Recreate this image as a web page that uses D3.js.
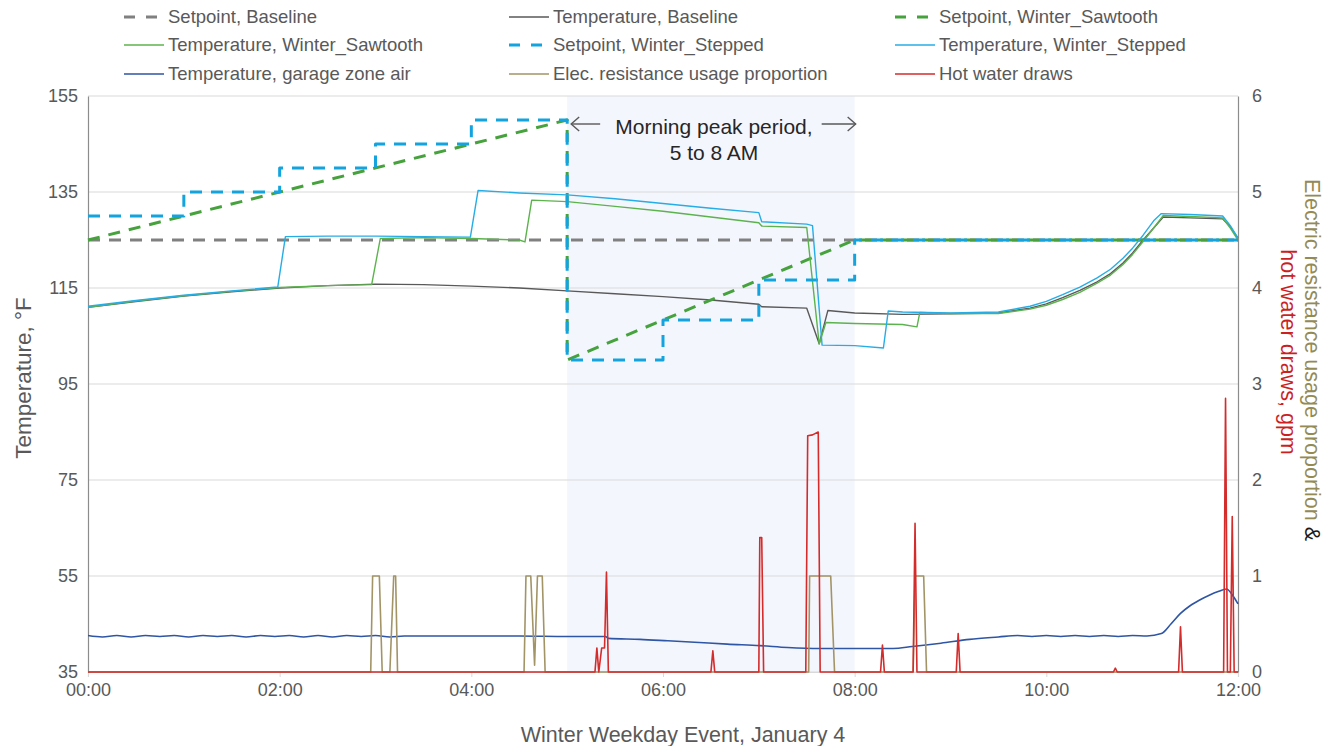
<!DOCTYPE html>
<html>
<head>
<meta charset="utf-8">
<script src="https://cdn.jsdelivr.net/npm/d3@7/dist/d3.min.js"></script>
<style>
  html, body { margin: 0; padding: 0; background: #ffffff; }
  svg { display: block; font-family: "Liberation Sans", Arial, sans-serif; }
</style>
</head>
<body>
<svg id="chart" width="1335" height="746"></svg>
<script>
// ---- Data (hours after midnight, °F / gpm / proportion) ----
const xTickHours = [0, 2, 4, 6, 8, 10, 12];
const xTickLabels = ["00:00", "02:00", "04:00", "06:00", "08:00", "10:00", "12:00"];
const leftTicks = [35, 55, 75, 95, 115, 135, 155];
const rightTicks = [0, 1, 2, 3, 4, 5, 6];
const peakStart = 5, peakEnd = 8;

const setpointBaselineHours = [0, 12];
const setpointBaselineTemp = [125, 125];

const tempBaselineHours = [0, 0.5, 1.0, 1.5, 2.0, 2.5, 3.0, 3.5, 4.0, 4.5, 5.0, 5.5, 6.0, 6.5, 7.0, 7.03, 7.5, 7.63, 7.72, 8.0, 8.5, 9.0, 9.5, 9.83, 10.0, 10.17, 10.35, 10.53, 10.67, 10.8, 10.9, 11.01, 11.12, 11.22, 11.5, 11.84, 11.92, 12.0];
const tempBaselineTemp = [111.0, 112.2, 113.3, 114.2, 115.0, 115.5, 115.8, 115.7, 115.4, 115.0, 114.4, 113.8, 113.2, 112.5, 111.6, 111.1, 110.8, 103.4, 110.3, 109.8, 109.5, 109.6, 109.8, 110.8, 111.7, 113.0, 114.5, 116.3, 118.0, 120.2, 122.3, 125.0, 127.5, 129.8, 129.6, 129.4, 127.7, 125.4];

const setpointSawtoothHours = [0, 5, 5, 8, 12];
const setpointSawtoothTemp = [125, 150, 100, 125, 125];

const tempSawtoothHours = [0, 0.5, 1.0, 1.5, 2.0, 2.5, 2.96, 3.05, 3.5, 4.0, 4.5, 4.56, 4.63, 5.0, 5.5, 6.0, 6.5, 7.0, 7.03, 7.5, 7.63, 7.7, 8.0, 8.5, 8.65, 8.68, 9.0, 9.5, 9.83, 10.0, 10.17, 10.35, 10.53, 10.67, 10.8, 10.9, 11.01, 11.12, 11.22, 11.5, 11.84, 11.92, 12.0];
const tempSawtoothTemp = [111.0, 112.3, 113.4, 114.3, 115.1, 115.5, 115.7, 125.3, 125.5, 125.3, 125.0, 124.6, 133.3, 133.0, 132.0, 131.0, 129.8, 128.6, 127.9, 127.6, 103.3, 107.8, 107.6, 107.4, 106.9, 109.9, 109.7, 109.7, 110.6, 111.4, 112.6, 114.1, 116.0, 117.7, 119.9, 122.0, 124.7, 127.5, 130.1, 129.9, 129.6, 127.5, 125.0];

const setpointSteppedHours = [0, 1, 2, 3, 4, 5, 6, 7, 8, 12];
const setpointSteppedTemp = [130, 135, 140, 145, 150, 100, 108.33, 116.67, 125, 125];

const tempSteppedHours = [0, 0.5, 1.0, 1.5, 1.98, 2.06, 2.5, 3.0, 3.5, 3.99, 4.07, 4.5, 5.0, 5.5, 6.0, 6.5, 7.0, 7.03, 7.5, 7.56, 7.66, 8.0, 8.3, 8.35, 8.5, 9.0, 9.5, 9.83, 10.0, 10.17, 10.35, 10.53, 10.67, 10.8, 10.9, 11.01, 11.12, 11.2, 11.5, 11.84, 11.92, 12.0];
const tempSteppedTemp = [111.2, 112.4, 113.5, 114.4, 115.2, 125.7, 125.8, 125.8, 125.7, 125.6, 135.3, 134.8, 134.4, 133.6, 132.6, 131.6, 130.7, 128.8, 128.3, 128.0, 103.1, 103.0, 102.5, 110.2, 110.0, 109.8, 110.0, 111.2, 112.2, 113.6, 115.2, 117.1, 118.9, 121.2, 123.3, 126.0, 129.0, 130.5, 130.3, 130.0, 128.0, 125.4];

const garageHours = [0, 0.15, 0.3, 0.45, 0.6, 0.75, 0.9, 1.05, 1.2, 1.35, 1.5, 1.65, 1.8, 1.95, 2.1, 2.25, 2.4, 2.55, 2.7, 2.85, 3.0, 3.15, 3.3, 3.5, 4.0, 4.5, 5.0, 5.4, 5.43, 5.76, 6.05, 6.33, 6.67, 7.01, 7.3, 7.64, 8.0, 8.4, 8.6, 8.9, 9.2, 9.5, 9.7, 9.85, 10.0, 10.15, 10.3, 10.45, 10.6, 10.75, 10.9, 11.05, 11.2, 11.3, 11.4, 11.5, 11.6, 11.7, 11.8, 11.88, 11.95, 12.0];
const garageTemp = [42.6, 42.3, 42.6, 42.3, 42.6, 42.4, 42.6, 42.3, 42.6, 42.4, 42.6, 42.3, 42.6, 42.4, 42.6, 42.3, 42.6, 42.3, 42.6, 42.4, 42.6, 42.3, 42.5, 42.5, 42.5, 42.5, 42.4, 42.4, 42.0, 41.8, 41.5, 41.2, 40.8, 40.5, 40.1, 39.9, 39.9, 39.9, 40.3, 41.0, 41.8, 42.3, 42.6, 42.4, 42.6, 42.4, 42.6, 42.4, 42.6, 42.4, 42.6, 42.5, 43.0, 45.0, 47.2, 48.8, 50.0, 51.0, 51.8, 52.3, 50.8, 49.2];

const elecHours = [0, 2.95, 2.97, 3.04, 3.07, 3.15, 3.19, 3.21, 3.23, 4.55, 4.57, 4.62, 4.66, 4.69, 4.74, 4.77, 7.52, 7.53, 7.75, 7.79, 8.61, 8.63, 8.72, 8.75, 12];
const elecProportion = [0, 0, 1, 1, 0, 0, 1, 1, 0, 0, 1, 1, 0.07, 1, 1, 0, 0, 1, 1, 0, 0, 1, 1, 0, 0];

const drawHours = [0, 5.29, 5.31, 5.33, 5.36, 5.39, 5.41, 5.43, 6.5, 6.52, 6.54, 7.0, 7.01, 7.03, 7.05, 7.49, 7.51, 7.56, 7.62, 7.64, 8.27, 8.29, 8.31, 8.61, 8.63, 8.65, 9.06, 9.08, 9.1, 10.7, 10.72, 10.74, 11.38, 11.4, 11.42, 11.85, 11.87, 11.89, 11.92, 11.94, 11.96, 12];
const drawGpm = [0, 0, 0.25, 0, 0.25, 0.25, 1.04, 0, 0, 0.22, 0, 0, 1.4, 1.4, 0, 0, 2.46, 2.47, 2.5, 0, 0, 0.28, 0, 0, 1.55, 0, 0, 0.4, 0, 0, 0.04, 0, 0, 0.47, 0, 0, 2.85, 0, 0, 1.62, 0, 0];

// ---- Series styling ----
const C = {
  grey: "#808080", dark: "#595959",
  greenDash: "#46a23c", green: "#5cb34d",
  blueDash: "#13a3de", blue: "#26ade6",
  garage: "#2f55a5", elec: "#a39467", draws: "#d42b2b",
  text: "#595959"
};

const series = [
  { name: "Setpoint, Baseline", h: setpointBaselineHours, v: setpointBaselineTemp, axis: "L", color: C.grey, width: 3, dash: "12,9", curve: d3.curveLinear },
  { name: "Temperature, Baseline", h: tempBaselineHours, v: tempBaselineTemp, axis: "L", color: C.dark, width: 1.4, curve: d3.curveLinear },
  { name: "Setpoint, Winter_Sawtooth", h: setpointSawtoothHours, v: setpointSawtoothTemp, axis: "L", color: C.greenDash, width: 3, dash: "12,9", curve: d3.curveLinear },
  { name: "Temperature, Winter_Sawtooth", h: tempSawtoothHours, v: tempSawtoothTemp, axis: "L", color: C.green, width: 1.4, curve: d3.curveLinear },
  { name: "Setpoint, Winter_Stepped", h: setpointSteppedHours, v: setpointSteppedTemp, axis: "L", color: C.blueDash, width: 3, dash: "12,9", curve: d3.curveStepAfter },
  { name: "Temperature, Winter_Stepped", h: tempSteppedHours, v: tempSteppedTemp, axis: "L", color: C.blue, width: 1.4, curve: d3.curveLinear },
  { name: "Temperature, garage zone air", h: garageHours, v: garageTemp, axis: "L", color: C.garage, width: 1.6, curve: d3.curveMonotoneX },
  { name: "Elec. resistance usage proportion", h: elecHours, v: elecProportion, axis: "R", color: C.elec, width: 1.6, curve: d3.curveLinear },
  { name: "Hot water draws", h: drawHours, v: drawGpm, axis: "R", color: C.draws, width: 1.6, curve: d3.curveLinear }
];

// ---- Layout ----
const plot = { left: 88, right: 1238, top: 96, bottom: 672 };
const x = d3.scaleLinear().domain([0, 12]).range([plot.left, plot.right]);
const yL = d3.scaleLinear().domain([35, 155]).range([plot.bottom, plot.top]);
const yR = d3.scaleLinear().domain([0, 6]).range([plot.bottom, plot.top]);

const svg = d3.select("#chart");

// Morning peak shading
svg.append("rect")
  .attr("x", x(peakStart)).attr("y", plot.top)
  .attr("width", x(peakEnd) - x(peakStart)).attr("height", plot.bottom - plot.top)
  .attr("fill", "#f4f6fd");

// Horizontal gridlines
svg.append("g").selectAll("line").data(leftTicks).join("line")
  .attr("x1", plot.left).attr("x2", plot.right)
  .attr("y1", d => yL(d)).attr("y2", d => yL(d))
  .attr("stroke", "#d9d9d9").attr("stroke-width", 1.2);

// Axes
const fontTick = 18;
const tickFont = '"Liberation Sans", Arial, sans-serif';
const xAxis = d3.axisBottom(x).tickValues(xTickHours)
  .tickFormat((d, i) => xTickLabels[i]).tickSize(5).tickPadding(6);
const gx = svg.append("g").attr("transform", `translate(0,${plot.bottom})`).call(xAxis);
gx.select(".domain").attr("stroke", "#d9d9d9").attr("stroke-width", 1.2);
gx.selectAll(".tick line").attr("stroke", "#d9d9d9");
gx.selectAll("text").attr("fill", C.text).style("font-size", fontTick + "px").style("font-family", tickFont);

const yAxisL = d3.axisLeft(yL).tickValues(leftTicks).tickSize(0).tickPadding(10);
const gyl = svg.append("g").attr("transform", `translate(${plot.left},0)`).call(yAxisL);
gyl.select(".domain").attr("stroke", "#8c8c8c").attr("stroke-width", 1.2);
gyl.selectAll("text").attr("fill", C.text).style("font-size", fontTick + "px").style("font-family", tickFont);

const yAxisR = d3.axisRight(yR).tickValues(rightTicks).tickFormat(d3.format("d")).tickSize(0).tickPadding(14);
const gyr = svg.append("g").attr("transform", `translate(${plot.right},0)`).call(yAxisR);
gyr.select(".domain").attr("stroke", "#8c8c8c").attr("stroke-width", 1.2);
gyr.selectAll("text").attr("fill", C.text).style("font-size", fontTick + "px").style("font-family", tickFont);

// Series lines
const gLines = svg.append("g");
series.forEach(s => {
  const yS = s.axis === "L" ? yL : yR;
  const pts = s.h.map((h, i) => [h, s.v[i]]);
  const line = d3.line().x(d => x(d[0])).y(d => yS(d[1])).curve(s.curve);
  gLines.append("path")
    .attr("d", line(pts))
    .attr("fill", "none")
    .attr("stroke", s.color)
    .attr("stroke-width", s.width)
    .attr("stroke-dasharray", s.dash || null)
    .attr("stroke-linejoin", "round");
});

// Peak-period annotation
const ann = svg.append("g").attr("fill", "#262626").style("font-size", "21px");
ann.append("text").attr("x", 714).attr("y", 134).attr("text-anchor", "middle").text("Morning peak period,");
ann.append("text").attr("x", 714).attr("y", 160).attr("text-anchor", "middle").text("5 to 8 AM");
const arrowY = 124;
const arrows = svg.append("g").attr("stroke", "#595959").attr("stroke-width", 1.4).attr("fill", "none");
arrows.append("line").attr("x1", x(peakStart) + 33).attr("x2", x(peakStart) + 4).attr("y1", arrowY).attr("y2", arrowY);
arrows.append("path").attr("d", `M${x(peakStart) + 12},${arrowY - 7} L${x(peakStart) + 4},${arrowY} L${x(peakStart) + 12},${arrowY + 7}`);
arrows.append("line").attr("x1", x(peakEnd) - 33).attr("x2", x(peakEnd) + 1).attr("y1", arrowY).attr("y2", arrowY);
arrows.append("path").attr("d", `M${x(peakEnd) - 7},${arrowY - 7} L${x(peakEnd) + 1},${arrowY} L${x(peakEnd) - 7},${arrowY + 7}`);

// Axis titles
svg.append("text")
  .attr("transform", `translate(31,${(plot.top + plot.bottom) / 2 - 6}) rotate(-90)`)
  .attr("text-anchor", "middle").attr("fill", C.text).style("font-size", "22.5px")
  .text("Temperature, °F");

svg.append("text")
  .attr("x", 683).attr("y", 742).attr("text-anchor", "middle")
  .attr("fill", C.text).style("font-size", "21.5px")
  .text("Winter Weekday Event, January 4");

const rt = svg.append("text")
  .attr("transform", `translate(1305,${360}) rotate(90)`)
  .attr("text-anchor", "middle").style("font-size", "21.5px");
rt.append("tspan").attr("fill", "#948a54").text("Electric resistance usage proportion ");
rt.append("tspan").attr("fill", "#1a1a1a").text("&");
svg.append("text")
  .attr("transform", `translate(1281,${352}) rotate(90)`)
  .attr("text-anchor", "middle").attr("fill", "#cc1f1f").style("font-size", "21.5px")
  .text("hot water draws, gpm");

// Legend: three columns, three rows
const legendCols = [168, 553, 939];
const legendRows = [23, 51, 80];
const gLeg = svg.append("g").style("font-size", "18.5px");
series.forEach((s, i) => {
  const cx = legendCols[i % 3], cy = legendRows[Math.floor(i / 3)];
  const ly = cy - 6;
  gLeg.append("line")
    .attr("x1", cx - 44).attr("x2", cx - 4).attr("y1", ly).attr("y2", ly)
    .attr("stroke", s.color)
    .attr("stroke-width", s.dash ? 3 : 1.6)
    .attr("stroke-dasharray", s.dash ? "11,11" : null);
  gLeg.append("text").attr("x", cx).attr("y", cy).attr("fill", C.text).text(s.name);
});
</script>
</body>
</html>
